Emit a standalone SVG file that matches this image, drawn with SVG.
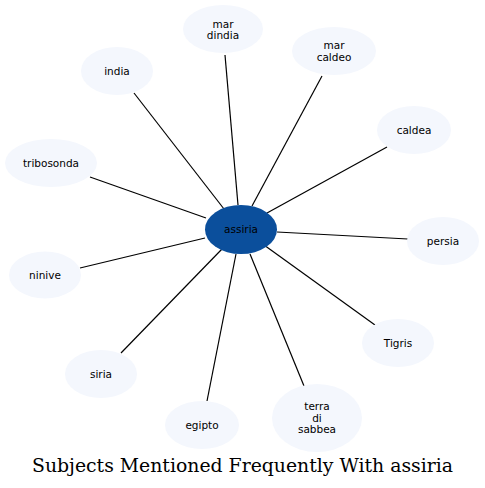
<svg xmlns="http://www.w3.org/2000/svg" width="485" height="488" viewBox="0 0 485 488">
<style>
.n ellipse{fill:#f4f7fd;stroke:none}
.n text{font-family:"DejaVu Sans",sans-serif;font-size:10.5px;fill:#000;text-anchor:middle}
#edges line{stroke:#000;stroke-width:1.2}
.t{font-family:"DejaVu Serif",serif;font-size:18.8px;text-anchor:middle;fill:#000}
</style>
<rect width="485" height="488" fill="#fff"/>
<g id="edges">
<line x1="225" y1="55" x2="238" y2="205"/>
<line x1="322" y1="76" x2="252" y2="206"/>
<line x1="134" y1="93" x2="224" y2="209"/>
<line x1="90" y1="177" x2="206" y2="218"/>
<line x1="387" y1="147" x2="267" y2="213"/>
<line x1="408" y1="239" x2="277" y2="232"/>
<line x1="80" y1="268" x2="205" y2="238"/>
<line x1="375" y1="325" x2="264" y2="245"/>
<line x1="121" y1="353" x2="222" y2="249"/>
<line x1="207" y1="401" x2="236" y2="254"/>
<line x1="304" y1="386" x2="250" y2="254"/>
</g>
<g id="assiria" class="n"><ellipse cx="241" cy="229.5" rx="36" ry="24.5" style="fill:#0b4f9c"/><text x="241" y="233">assiria</text></g>
<g id="mar_dindia" class="n"><ellipse cx="223" cy="29" rx="40" ry="24"/><text x="223" y="27.5">mar</text><text x="223" y="39">dindia</text></g>
<g id="mar_caldeo" class="n"><ellipse cx="334" cy="51" rx="42" ry="24"/><text x="334" y="49">mar</text><text x="334" y="60.5">caldeo</text></g>
<g id="india" class="n"><ellipse cx="117" cy="71" rx="36" ry="24"/><text x="117" y="74.5">india</text></g>
<g id="tribosonda" class="n"><ellipse cx="51" cy="163" rx="46" ry="24"/><text x="51" y="166.5">tribosonda</text></g>
<g id="caldea" class="n"><ellipse cx="414" cy="130" rx="37" ry="24"/><text x="414" y="133.5">caldea</text></g>
<g id="persia" class="n"><ellipse cx="443" cy="241" rx="36" ry="24"/><text x="443" y="244.5">persia</text></g>
<g id="ninive" class="n"><ellipse cx="45" cy="275" rx="36" ry="23.5"/><text x="45" y="278.5">ninive</text></g>
<g id="tigris" class="n"><ellipse cx="398" cy="343" rx="36" ry="24"/><text x="398" y="346.5">Tigris</text></g>
<g id="siria" class="n"><ellipse cx="101" cy="374" rx="36" ry="24"/><text x="101" y="377.5">siria</text></g>
<g id="egipto" class="n"><ellipse cx="202" cy="425" rx="37" ry="24"/><text x="202" y="428.5">egipto</text></g>
<g id="terra_di_sabbea" class="n"><ellipse cx="317" cy="418" rx="45" ry="34"/><text x="317" y="410">terra</text><text x="317" y="421.5">di</text><text x="317" y="433">sabbea</text></g>
<text class="t" x="242.5" y="472" textLength="421" lengthAdjust="spacingAndGlyphs">Subjects Mentioned Frequently With assiria</text>
</svg>
